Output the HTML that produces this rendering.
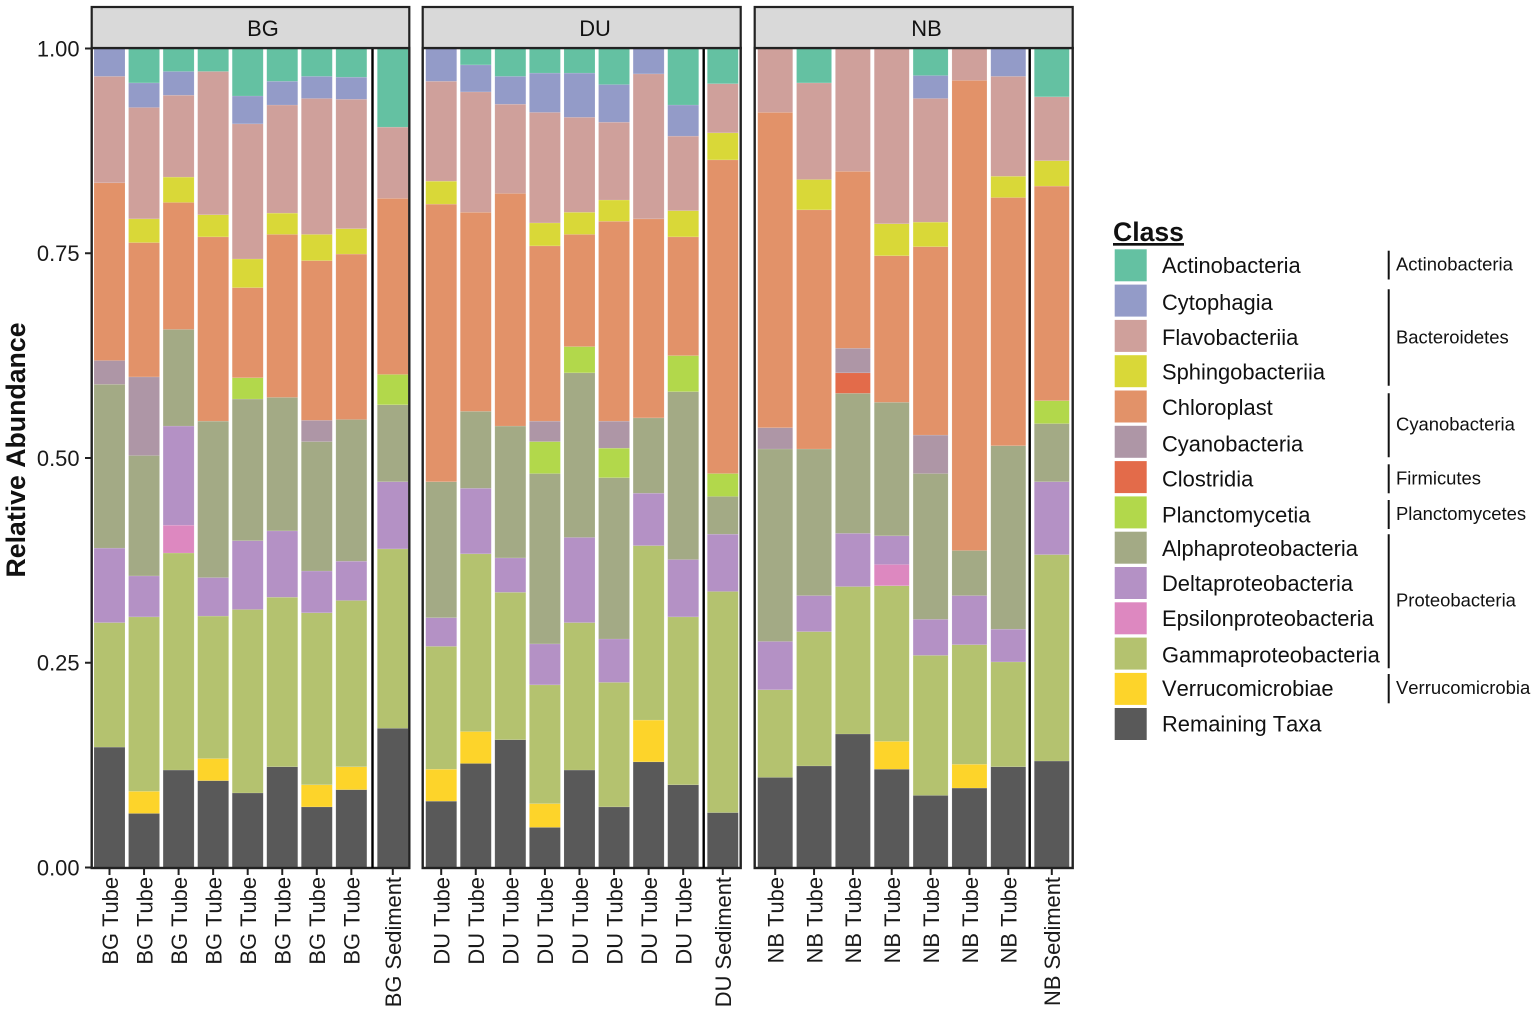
<!DOCTYPE html>
<html lang="en">
<head>
<meta charset="utf-8">
<title>Relative abundance by class</title>
<style>
  html, body { margin: 0; padding: 0; background: #fff; }
  svg { display: block; font-family: "Liberation Sans", Arial, sans-serif; font-kerning: none; }
  .legend-label { font-size: 21.9px; fill: #111; }
  .phylum-label { font-size: 18.45px; fill: #111; }
  .strip-label { font-size: 21.9px; fill: #111; text-anchor: middle; }
  .tick-text { font-size: 21.9px; fill: #1a1a1a; }
</style>
</head>
<body>
<svg id="chart" xmlns="http://www.w3.org/2000/svg" width="1535" height="1013" viewBox="0 0 1535 1013">
  <rect x="0" y="0" width="1535" height="1013" fill="#ffffff"/>
  <g id="bars"></g>
  <g id="frames"></g>
  <g id="axes"></g>

  <g>
    <rect x="91.7" y="7" width="317.6" height="41" fill="#d9d9d9" stroke="#222" stroke-width="2.2"/>
    <text class="strip-label" x="263" y="36">BG</text>
    <rect x="422.7" y="7" width="318" height="41" fill="#d9d9d9" stroke="#222" stroke-width="2.2"/>
    <text class="strip-label" x="595" y="36">DU</text>
    <rect x="754.7" y="7" width="318" height="41" fill="#d9d9d9" stroke="#222" stroke-width="2.2"/>
    <text class="strip-label" x="926.5" y="36">NB</text>
  </g>

  <text transform="translate(25 450) rotate(-90)" text-anchor="middle" font-size="26.7" font-weight="700" fill="#111">Relative Abundance</text>

  <g>
    <text x="1113" y="241" font-size="26.6" font-weight="700" fill="#111" text-decoration="underline">Class</text>

    <rect x="1114.7" y="249.3" width="32" height="32" fill="#64c1a2"/>
    <rect x="1114.7" y="284.6" width="32" height="32" fill="#939bc8"/>
    <rect x="1114.7" y="319.9" width="32" height="32" fill="#cfa09b"/>
    <rect x="1114.7" y="355.2" width="32" height="32" fill="#d9d838"/>
    <rect x="1114.7" y="390.5" width="32" height="32" fill="#e29269"/>
    <rect x="1114.7" y="425.8" width="32" height="32" fill="#ae96a6"/>
    <rect x="1114.7" y="461.1" width="32" height="32" fill="#e36b4a"/>
    <rect x="1114.7" y="496.4" width="32" height="32" fill="#b2d84b"/>
    <rect x="1114.7" y="531.7" width="32" height="32" fill="#a3aa85"/>
    <rect x="1114.7" y="567" width="32" height="32" fill="#b491c5"/>
    <rect x="1114.7" y="602.3" width="32" height="32" fill="#dd88c0"/>
    <rect x="1114.7" y="637.6" width="32" height="32" fill="#b4c26f"/>
    <rect x="1114.7" y="672.9" width="32" height="32" fill="#fdd42a"/>
    <rect x="1114.7" y="708" width="32" height="32" fill="#595959"/>

    <text class="legend-label" x="1162" y="273">Actinobacteria</text>
    <text class="legend-label" x="1162" y="310">Cytophagia</text>
    <text class="legend-label" x="1162" y="345">Flavobacteriia</text>
    <text class="legend-label" x="1162" y="379.3">Sphingobacteriia</text>
    <text class="legend-label" x="1162" y="415">Chloroplast</text>
    <text class="legend-label" x="1162" y="451.3">Cyanobacteria</text>
    <text class="legend-label" x="1162" y="486.7">Clostridia</text>
    <text class="legend-label" x="1162" y="522.3">Planctomycetia</text>
    <text class="legend-label" x="1162" y="556">Alphaproteobacteria</text>
    <text class="legend-label" x="1162" y="591">Deltaproteobacteria</text>
    <text class="legend-label" x="1162" y="626">Epsilonproteobacteria</text>
    <text class="legend-label" x="1162" y="662.3">Gammaproteobacteria</text>
    <text class="legend-label" x="1162" y="696">Verrucomicrobiae</text>
    <text class="legend-label" x="1162" y="731.3">Remaining Taxa</text>

    <g stroke="#111" stroke-width="2">
      <line x1="1388.7" x2="1388.7" y1="250.7" y2="279.5"/>
      <line x1="1388.7" x2="1388.7" y1="289.3" y2="385.7"/>
      <line x1="1388.7" x2="1388.7" y1="393.3" y2="457.3"/>
      <line x1="1388.7" x2="1388.7" y1="464.3" y2="493.3"/>
      <line x1="1388.7" x2="1388.7" y1="500" y2="529"/>
      <line x1="1388.7" x2="1388.7" y1="534.3" y2="668.3"/>
      <line x1="1388.7" x2="1388.7" y1="674" y2="703.3"/>
    </g>
    <text class="phylum-label" x="1396" y="270.7">Actinobacteria</text>
    <text class="phylum-label" x="1396" y="343.3">Bacteroidetes</text>
    <text class="phylum-label" x="1396" y="430.7">Cyanobacteria</text>
    <text class="phylum-label" x="1396" y="484.3">Firmicutes</text>
    <text class="phylum-label" x="1396" y="520">Planctomycetes</text>
    <text class="phylum-label" x="1396" y="606.7">Proteobacteria</text>
    <text class="phylum-label" x="1396" y="694">Verrucomicrobia</text>
  </g>
</svg>

<script>
// ---- chart data (relative abundance; samples ordered BG, DU, NB) ----
const sampleLabels = [
  "BG Tube","BG Tube","BG Tube","BG Tube","BG Tube","BG Tube","BG Tube","BG Tube","BG Sediment",
  "DU Tube","DU Tube","DU Tube","DU Tube","DU Tube","DU Tube","DU Tube","DU Tube","DU Sediment",
  "NB Tube","NB Tube","NB Tube","NB Tube","NB Tube","NB Tube","NB Tube","NB Sediment"
];
const yTickValues = [0, 0.25, 0.5, 0.75, 1];
const yTickLabels = ["0.00", "0.25", "0.50", "0.75", "1.00"];

const remainingTaxa = [.147,.066,.119,.106,.091,.123,.074,.095,.170, .081,.127,.156,.049,.119,.074,.129,.101,.067, .110,.124,.163,.120,.088,.097,.123,.130];
const verrucomicrobiae = [0,.027,0,.027,0,0,.027,.028,0, .039,.039,0,.029,0,0,.051,0,0, 0,0,0,.034,0,.029,0,0];
const gammaproteobacteria = [.152,.213,.265,.174,.224,.207,.210,.203,.219, .150,.217,.180,.145,.180,.152,.213,.205,.270, .107,.164,.180,.190,.171,.146,.128,.252];
const epsilonproteobacteria = [0,0,.034,0,0,0,0,0,0, 0,0,0,0,0,0,0,0,0, 0,0,0,.026,0,0,0,0];
const deltaproteobacteria = [.091,.050,.121,.047,.084,.081,.051,.048,.082, .035,.080,.042,.050,.104,.053,.064,.070,.070, .059,.044,.065,.035,.044,.060,.040,.089];
const alphaproteobacteria = [.200,.147,.118,.191,.173,.163,.158,.173,.094, .166,.094,.161,.208,.201,.197,.092,.205,.046, .235,.179,.171,.163,.178,.055,.224,.071];
const planctomycetia = [0,0,0,0,.026,0,0,0,.037, 0,0,0,.039,.032,.036,0,.044,.028, 0,0,0,0,0,0,0,.028];
const clostridia = [0,0,0,0,0,0,0,0,0, 0,0,0,0,0,0,0,0,0, 0,0,.025,0,0,0,0,0];
const cyanobacteria = [.029,.096,0,0,0,0,.026,0,0, 0,0,0,.025,0,.033,0,0,0, .026,0,.030,0,.047,0,0,0];
const chloroplast = [.217,.164,.155,.225,.110,.199,.195,.202,.215, .339,.243,.284,.214,.137,.244,.243,.145,.383, .385,.292,.216,.179,.230,.574,.303,.262];
const sphingobacteriia = [0,.029,.031,.027,.035,.026,.032,.031,0, .028,0,0,.028,.027,.026,0,.032,.033, 0,.037,0,.039,.030,0,.026,.031];
const flavobacteriia = [.130,.136,.100,.175,.165,.132,.166,.158,.087, .122,.147,.109,.135,.116,.095,.177,.091,.060, .078,.118,.150,.214,.151,.039,.122,.078];
const cytophagia = [.034,.030,.029,0,.034,.029,.027,.027,0, .040,.033,.034,.048,.054,.046,.031,.038,0, 0,0,0,0,.028,0,.034,0];
const actinobacteria = [0,.042,.028,.028,.058,.040,.034,.035,.096, 0,.020,.034,.030,.030,.044,0,.069,.043, 0,.042,0,0,.033,0,0,.059];

// ---- presentation (stack order, colours, panel layout) ----
const stackOrder = [
  ["remaining-taxa", remainingTaxa, "#595959"],
  ["verrucomicrobiae", verrucomicrobiae, "#fdd42a"],
  ["gammaproteobacteria", gammaproteobacteria, "#b4c26f"],
  ["epsilonproteobacteria", epsilonproteobacteria, "#dd88c0"],
  ["deltaproteobacteria", deltaproteobacteria, "#b491c5"],
  ["alphaproteobacteria", alphaproteobacteria, "#a3aa85"],
  ["planctomycetia", planctomycetia, "#b2d84b"],
  ["clostridia", clostridia, "#e36b4a"],
  ["cyanobacteria", cyanobacteria, "#ae96a6"],
  ["chloroplast", chloroplast, "#e29269"],
  ["sphingobacteriia", sphingobacteriia, "#d9d838"],
  ["flavobacteriia", flavobacteriia, "#cfa09b"],
  ["cytophagia", cytophagia, "#939bc8"],
  ["actinobacteria", actinobacteria, "#64c1a2"]
];
const panelLayout = [
  { name: "bg", prefix: "BG", left: 91.7, right: 409.3, first: 94, pitch: 34.55, width: 31, sep: 372.5, sed: 377.3 },
  { name: "du", prefix: "DU", left: 422.7, right: 740.7, first: 425.7, pitch: 34.57, width: 31, sep: 703.7, sed: 707.3 },
  { name: "nb", prefix: "NB", left: 754.7, right: 1072.7, first: 757.7, pitch: 38.85, width: 35, sep: 1029.7, sed: 1034.3 }
];

const NS = "http://www.w3.org/2000/svg";
const barsLayer = document.getElementById("bars");
const framesLayer = document.getElementById("frames");
const axesLayer = document.getElementById("axes");

function yScale(v) { return 867.5 - 819 * v; }
function panelFor(label) { return panelLayout.find(function (p) { return label.indexOf(p.prefix) === 0; }); }
function isSediment(label) { return label.indexOf("Sediment") !== -1; }
function slotFor(index) {
  const label = sampleLabels[index];
  let slot = 0;
  for (let i = 0; i < index; i++) {
    if (panelFor(sampleLabels[i]) === panelFor(label)) slot++;
  }
  return slot;
}
function xScale(index) {
  const label = sampleLabels[index];
  const p = panelFor(label);
  return isSediment(label) ? p.sed : p.first + slotFor(index) * p.pitch;
}
function make(tag, attrs) {
  const el = document.createElementNS(NS, tag);
  Object.keys(attrs).forEach(function (k) { el.setAttribute(k, attrs[k]); });
  return el;
}

// bars
sampleLabels.forEach(function (label, i) {
  const p = panelFor(label);
  const group = make("g", {});
  
  
  let cum = 0;
  stackOrder.forEach(function (entry) {
    const value = entry[1][i];
    if (!value) return;
    const top = yScale(cum + value);
    const bottom = yScale(cum);
    const seg = make("rect", {
      x: xScale(i), y: top, width: p.width, height: bottom - top,
      fill: entry[2], stroke: "rgba(255,255,255,0.2)", "stroke-width": 0.5
    });
    
    
    group.appendChild(seg);
    cum += value;
  });
  barsLayer.appendChild(group);
});

// panel frames and sediment separators
panelLayout.forEach(function (p) {
  const frame = make("rect", {
    x: p.left, y: 48, width: p.right - p.left, height: 820,
    fill: "none", stroke: "#222", "stroke-width": 2.4
  });
  
  
  framesLayer.appendChild(frame);

  const sep = make("line", { x1: p.sep, x2: p.sep, y1: 48, y2: 868, stroke: "#000", "stroke-width": 2.4 });
  
  
  framesLayer.appendChild(sep);
});

// y axis
yTickValues.forEach(function (v, i) {
  const y = yScale(v);
  const tick = make("line", { x1: 85, x2: 91, y1: y, y2: y, stroke: "#222", "stroke-width": 2 });
  
  
  axesLayer.appendChild(tick);

  const text = make("text", { x: 79.5, y: y + 7.8, "text-anchor": "end", class: "tick-text" });
  
  
  text.textContent = yTickLabels[i];
  axesLayer.appendChild(text);
});

// x axis
sampleLabels.forEach(function (label, i) {
  const p = panelFor(label);
  const c = xScale(i) + p.width / 2;
  const tick = make("line", { x1: c, x2: c, y1: 868, y2: 875, stroke: "#222", "stroke-width": 2 });
  
  
  axesLayer.appendChild(tick);

  const text = make("text", {
    transform: "translate(" + (c + 8.3) + " 877) rotate(-90)",
    "text-anchor": "end", class: "tick-text"
  });
  
  
  text.textContent = label;
  axesLayer.appendChild(text);
});
</script>
</body>
</html>
